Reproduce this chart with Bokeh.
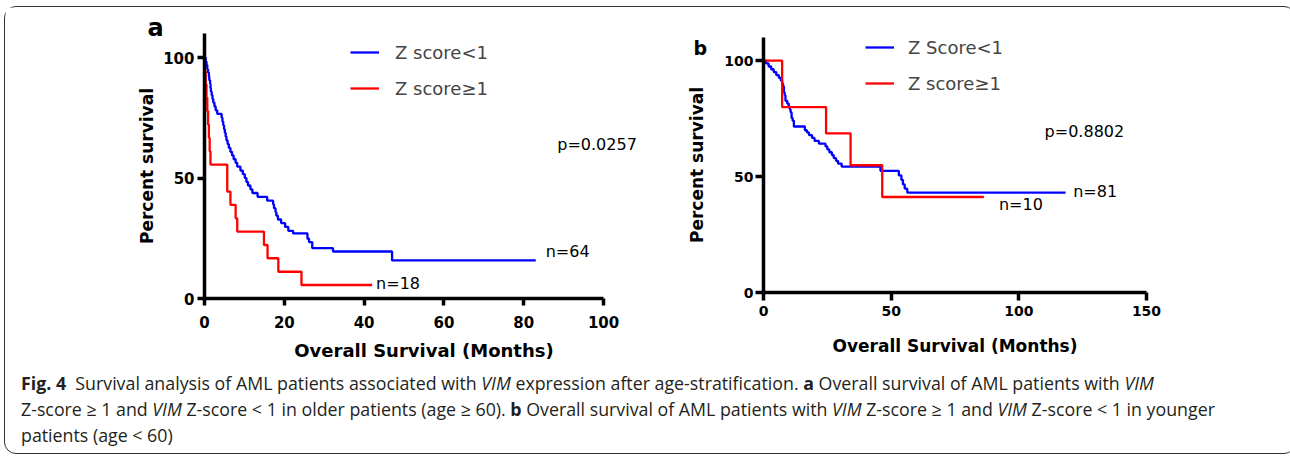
from bokeh.plotting import figure
from bokeh.models import (Range1d, FixedTicker, Legend, LegendItem, Label, Div)
from bokeh.layouts import column, row
from bokeh.embed import file_html
from bokeh.resources import INLINE

# ---------------- data ----------------
# Panel a (older patients, age >= 60)
a_low_t = [0, 0.3, 0.5, 0.7, 0.9, 1.1, 1.2, 1.4, 1.5, 1.6, 1.8, 2.0, 2.2, 2.5, 2.8, 3.2,
           4.3, 4.5, 4.7, 4.9, 5.1, 5.3, 5.5, 5.8, 6.1, 6.5, 6.9, 7.3, 7.8, 8.2, 9.0, 9.6,
           10.1, 10.5, 10.9, 11.5, 12.0, 13.3, 15.7, 17.2, 17.4, 17.8, 18.0, 18.4, 19.2,
           20.2, 21.0, 22.2, 25.8, 26.2, 27.0, 32.2, 47.0, 83.0]
a_low_s = [100, 98.4, 96.9, 95.3, 93.8, 92.2, 90.6, 89.1, 87.5, 85.9, 84.4, 82.8, 81.3, 79.7,
           78.1, 76.6, 75.0, 73.4, 71.9, 70.3, 68.8, 67.2, 65.6, 64.1, 62.5, 60.9, 59.4, 57.8,
           56.3, 54.7, 53.1, 51.6, 50.0, 48.4, 46.9, 45.3, 43.8, 42.2, 40.6, 39.1, 37.5, 35.9,
           34.4, 32.8, 31.3, 29.7, 28.1, 27.0, 24.8, 23.4, 20.9, 19.5, 15.8, 15.8]
a_high_t = [0, 0.1, 0.3, 0.5, 0.7, 0.9, 1.1, 1.3, 1.5, 5.7, 6.5, 7.8, 8.2, 14.9, 15.8, 18.5, 24.3, 42.0]
a_high_s = [100, 94.4, 88.9, 83.3, 77.8, 72.2, 66.7, 61.1, 55.6, 44.4, 38.9, 33.3, 27.8, 22.2,
            16.7, 11.1, 5.6, 5.6]

# Panel b (younger patients, age < 60)
b_low_t = [0, 1.0, 2.0, 3.0, 4.0, 5.0, 6.0, 6.8, 7.3, 7.7, 8.0, 8.3, 8.6, 9.3, 9.9, 10.3, 10.6,
           11.0, 11.4, 11.9, 16.2, 17.0, 17.8, 19.0, 20.0, 21.7, 24.3, 25.0, 25.8, 26.8, 27.5,
           28.4, 29.2, 30.6, 45.8, 53.0, 54.0, 54.6, 55.3, 56.3, 118.3]
b_low_s = [100, 98.8, 97.5, 96.3, 95.1, 93.8, 92.6, 91.4, 90.1, 88.9, 86.4, 85.2, 82.7, 81.5,
           80.2, 79.0, 77.8, 75.3, 74.1, 71.6, 70.0, 69.1, 67.9, 66.7, 65.4, 64.2, 63.0, 61.7,
           60.5, 59.3, 58.0, 56.8, 55.6, 54.3, 52.5, 50.5, 48.6, 46.6, 44.8, 43.1, 43.1]
b_high_t = [0, 7.3, 24.5, 34.1, 46.5, 86.3]
b_high_s = [100, 80.0, 68.6, 54.9, 41.2, 41.2]

a_xticks = [0, 20, 40, 60, 80, 100]
b_xticks = [0, 50, 100, 150]
yticks = [0, 50, 100]

a_labels = ["Z score<1", "Z score\u22651"]
b_labels = ["Z Score<1", "Z score\u22651"]
a_p = "p=0.0257"
b_p = "p=0.8802"
a_n = ["n=64", "n=18"]
b_n = ["n=81", "n=10"]

BLUE = "#0000FF"
RED = "#FF0000"
FONT = "DejaVu Sans"


def style_axes(p, tick_size, tick_out):
    for ax in (p.xaxis, p.yaxis):
        ax.axis_line_width = 3.5
        ax.axis_line_color = "black"
        ax.major_tick_line_width = 3.5
        ax.major_tick_line_color = "black"
        ax.major_tick_out = tick_out
        ax.major_tick_in = 0
        ax.minor_tick_line_color = None
        ax.major_label_text_font = FONT
        ax.major_label_text_font_style = "bold"
        ax.major_label_text_font_size = tick_size
        ax.major_label_text_color = "black"
        ax.axis_label_text_font = FONT
        ax.axis_label_text_font_style = "bold"
        ax.axis_label_text_color = "black"
    p.xgrid.visible = False
    p.ygrid.visible = False
    p.outline_line_color = None


def make_panel(low_t, low_s, high_t, high_s, xmax, xbound, xticks, labels, ptxt, ntxt,
               width, height, mb, tick_size, tick_out, title_size, std, leg_loc, leg_standoff,
               letter, letter_offset, letter_standoff, letter_size, p_pos, n_pos):
    p = figure(width=width, height=height, output_backend="svg", toolbar_location=None,
               x_range=Range1d(0, xmax), y_range=Range1d(0, 110),
               min_border_left=mb[0], min_border_right=mb[1],
               min_border_top=mb[2], min_border_bottom=mb[3])
    try:
        p.frame_align = False
    except Exception:
        pass
    p.background_fill_color = "white"
    p.border_fill_color = "white"
    r_low = p.step(low_t, low_s, mode="after", line_color=BLUE, line_width=2.3)
    r_high = p.step(high_t, high_s, mode="after", line_color=RED, line_width=2.3)
    style_axes(p, tick_size, tick_out)
    p.xaxis.bounds = (0, xbound)
    p.xaxis.ticker = FixedTicker(ticks=xticks)
    p.yaxis.ticker = FixedTicker(ticks=yticks)
    p.xaxis.axis_label = "Overall Survival (Months)"
    p.yaxis.axis_label = "Percent survival"
    p.xaxis.axis_label_text_font_size = title_size
    p.yaxis.axis_label_text_font_size = "17px"
    p.xaxis.major_label_standoff = std[0]
    p.yaxis.major_label_standoff = std[1]
    p.xaxis.axis_label_standoff = std[2]
    p.yaxis.axis_label_standoff = std[3]

    p.title.text = letter
    p.title.align = "left"
    p.title.offset = letter_offset
    p.title.standoff = letter_standoff
    p.title.text_font = FONT
    p.title.text_font_style = "bold"
    p.title.text_font_size = letter_size
    p.title.text_color = "black"

    leg = Legend(items=[LegendItem(label=labels[0], renderers=[r_low]),
                        LegendItem(label=labels[1], renderers=[r_high])],
                 location=leg_loc, padding=0, margin=0, spacing=14,
                 glyph_width=29, glyph_height=22, label_height=22,
                 label_standoff=leg_standoff,
                 label_text_font=FONT, label_text_font_size="18px",
                 background_fill_alpha=0, border_line_alpha=0)
    p.add_layout(leg)

    for txt, (x, y) in [(ptxt, p_pos), (ntxt[0], n_pos[0]), (ntxt[1], n_pos[1])]:
        p.add_layout(Label(x=x, y=y, text=txt, text_baseline="middle",
                           text_font=FONT, text_font_size="16px", text_color="black"))
    return p


pa = make_panel(a_low_t, a_low_s, a_high_t, a_high_s, 110, 100, a_xticks, a_labels, a_p, a_n,
                width=643, height=367, mb=(199, 5, 26, 76), tick_size="15px", tick_out=7,
                title_size="18px", std=(10, 3, 9, 3), leg_loc=(146, 199), leg_standoff=16,
                letter="a", letter_offset=-57, letter_standoff=-16, letter_size="24px",
                p_pos=(88.4, 63.9), n_pos=[(85.5, 19.6), (43.0, 6.2)])

pb = make_panel(b_low_t, b_low_s, b_high_t, b_high_s, 150, 150, b_xticks, b_labels, b_p, b_n,
                width=637, height=367, mb=(115, 139, 30, 82), tick_size="14px", tick_out=8,
                title_size="17px", std=(5, 2, 17, 14), leg_loc=(102, 198), leg_standoff=14,
                letter="b", letter_offset=-70, letter_standoff=-43, letter_size="19px",
                p_pos=(110.1, 69.6), n_pos=[(121.3, 43.5), (92.2, 37.9)])

caption_html = (
    "<div style=\"font-family:'Open Sans'; font-size:17.8px; line-height:26px; "
    "white-space:nowrap; color:#231f20; padding:0 0 0 11px;\">"
    "<b>Fig. 4</b>&nbsp; Survival analysis of AML patients associated with <i>VIM</i> "
    "expression after age-stratification. <b>a</b> Overall survival of AML patients with <i>VIM</i><br>"
    "Z-score \u2265 1 and <i>VIM</i> Z-score &lt; 1 in older patients (age \u2265 60). "
    "<b>b</b> Overall survival of AML patients with <i>VIM</i> Z-score \u2265 1 and "
    "<i>VIM</i> Z-score &lt; 1 in younger<br>"
    "patients (age &lt; 60)</div>"
)
cap = Div(text=caption_html, width=1280, height=78, styles={"margin-top": "-4px"})

layout = column(row(pa, pb), cap,
                styles={"border": "1.3px solid #333", "border-radius": "12px",
                        "background-color": "white", "margin": "6px 0 0 4px"})

open("out.html", "w").write(file_html(layout, INLINE))
